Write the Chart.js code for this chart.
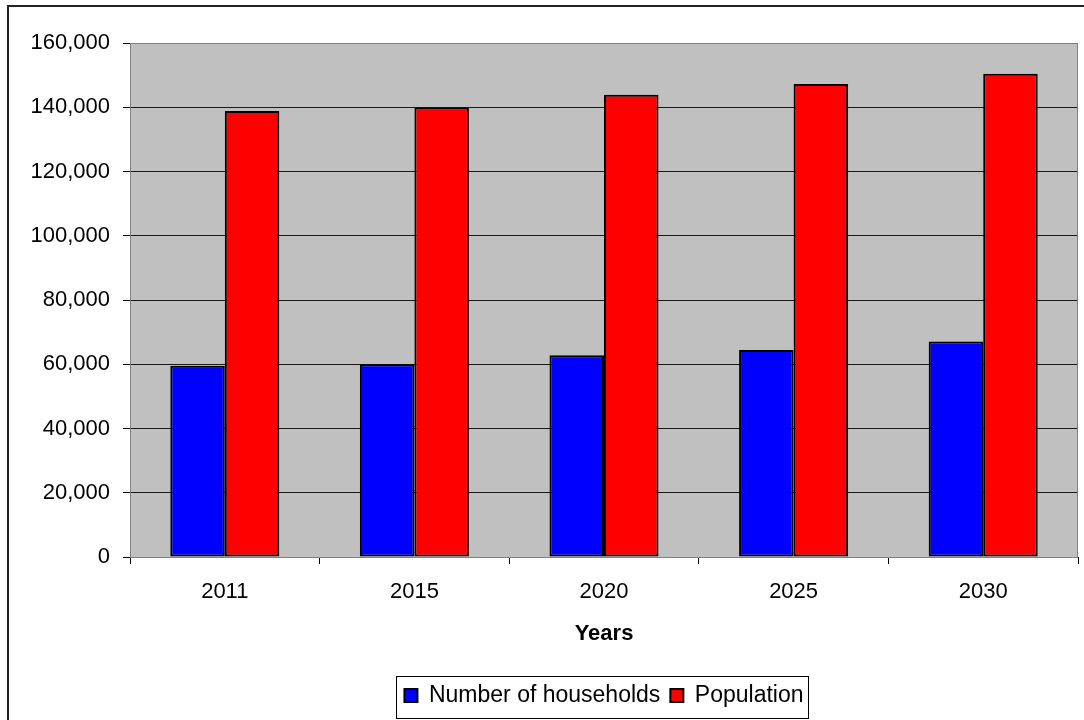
<!DOCTYPE html>
<html>
<head>
<meta charset="utf-8">
<script src="https://cdn.jsdelivr.net/npm/chart.js"></script>
<style>
  html, body { margin: 0; padding: 0; background: #fff; }
  #wrap { width: 1084px; height: 720px; position: relative; overflow: hidden; }
</style>
</head>
<body>
<div id="wrap"><canvas id="chart" width="1084" height="720"></canvas></div>
<script>
const years = ['2011', '2015', '2020', '2025', '2030'];
const households = [59500, 60000, 62800, 64400, 67100];
const population = [138800, 139900, 143900, 147200, 150400];
const yTicks = [0, 20000, 40000, 60000, 80000, 100000, 120000, 140000, 160000];

const fontFamily = '"Liberation Sans", Arial, sans-serif';

// gray plot area, outer frame and legend box
const decorations = {
    id: 'decorations',
    afterLayout(chart) {
        // centre the legend under the plot area rather than the canvas
        const lg = chart.legend;
        const a = chart.chartArea;
        const shift = (a.left + a.right) / 2 - (lg.left + lg.right) / 2;
        lg.left += shift;
        lg.right += shift;
    },
    beforeDraw(chart) {
        const ctx = chart.ctx;
        const a = chart.chartArea;
        ctx.save();
        ctx.fillStyle = '#c0c0c0';
        ctx.fillRect(a.left, a.top, a.right - a.left, a.bottom - a.top);
        ctx.restore();
    },
    afterDraw(chart) {
        const ctx = chart.ctx;
        const a = chart.chartArea;
        ctx.save();
        ctx.strokeStyle = '#808080';
        ctx.lineWidth = 1;
        ctx.strokeRect(a.left + 0.5, a.top + 0.5, a.right - a.left - 1, a.bottom - a.top);
        // outer frame
        ctx.strokeStyle = '#222';
        ctx.lineWidth = 2;
        ctx.strokeRect(8, 6, 1200, 800);
        // legend box
        const lg = chart.legend;
        if (lg && lg.legendHitBoxes.length) {
            const first = lg.legendHitBoxes[0];
            const last = lg.legendHitBoxes[lg.legendHitBoxes.length - 1];
            const x0 = first.left - 8;
            const x1 = last.left + last.width + 5;
            const y0 = first.top - 8;
            const y1 = first.top + first.height + 11;
            ctx.strokeStyle = '#000';
            ctx.lineWidth = 1;
            ctx.strokeRect(Math.round(x0) + 0.5, Math.round(y0) + 0.5, Math.round(x1 - x0), Math.round(y1 - y0));
        }
        ctx.restore();
    }
};

new Chart(document.getElementById('chart'), {
    type: 'bar',
    data: {
        labels: years,
        datasets: [{
            label: 'Number of households',
            data: households,
            backgroundColor: '#0000ff',
            borderColor: '#000',
            borderWidth: 2,
            borderSkipped: false
        }, {
            label: 'Population',
            data: population,
            backgroundColor: '#ff0000',
            borderColor: '#000',
            borderWidth: 2,
            borderSkipped: false
        }]
    },
    options: {
        responsive: false,
        animation: false,
        layout: { padding: { left: 0, right: 6, top: 43, bottom: 3 } },
        datasets: { bar: { categoryPercentage: 0.575, barPercentage: 1 } },
        plugins: {
            tooltip: { enabled: false },
            legend: {
                position: 'bottom',
                labels: {
                    color: '#000',
                    font: { family: fontFamily, size: 23 },
                    boxWidth: 13,
                    boxHeight: 13,
                    padding: 10
                }
            }
        },
        scales: {
            x: {
                offset: true,
                grid: {
                    offset: true,
                    drawOnChartArea: false,
                    drawTicks: true,
                    tickLength: 7,
                    color: '#000'
                },
                border: { color: '#000', width: 1 },
                ticks: {
                    color: '#000',
                    font: { family: fontFamily, size: 22 },
                    padding: 15
                },
                title: {
                    display: true,
                    text: 'Years',
                    color: '#000',
                    font: { family: fontFamily, size: 22, weight: 'bold' },
                    padding: { top: 8, bottom: 27 }
                },
                afterFit(scale) { scale.height = 117; }
            },
            y: {
                min: 0,
                max: 160000,
                afterBuildTicks(scale) { scale.ticks = yTicks.map(v => ({ value: v })); },
                grid: {
                    color: '#1a1a1a',
                    tickLength: 7,
                    tickColor: '#000'
                },
                border: { color: '#808080' },
                ticks: {
                    color: '#000',
                    font: { family: fontFamily, size: 22 },
                    padding: 13,
                    callback: v => v.toLocaleString('en-US')
                },
                afterFit(scale) { scale.width = 130; }
            }
        }
    },
    plugins: [decorations]
});
</script>
</body>
</html>
